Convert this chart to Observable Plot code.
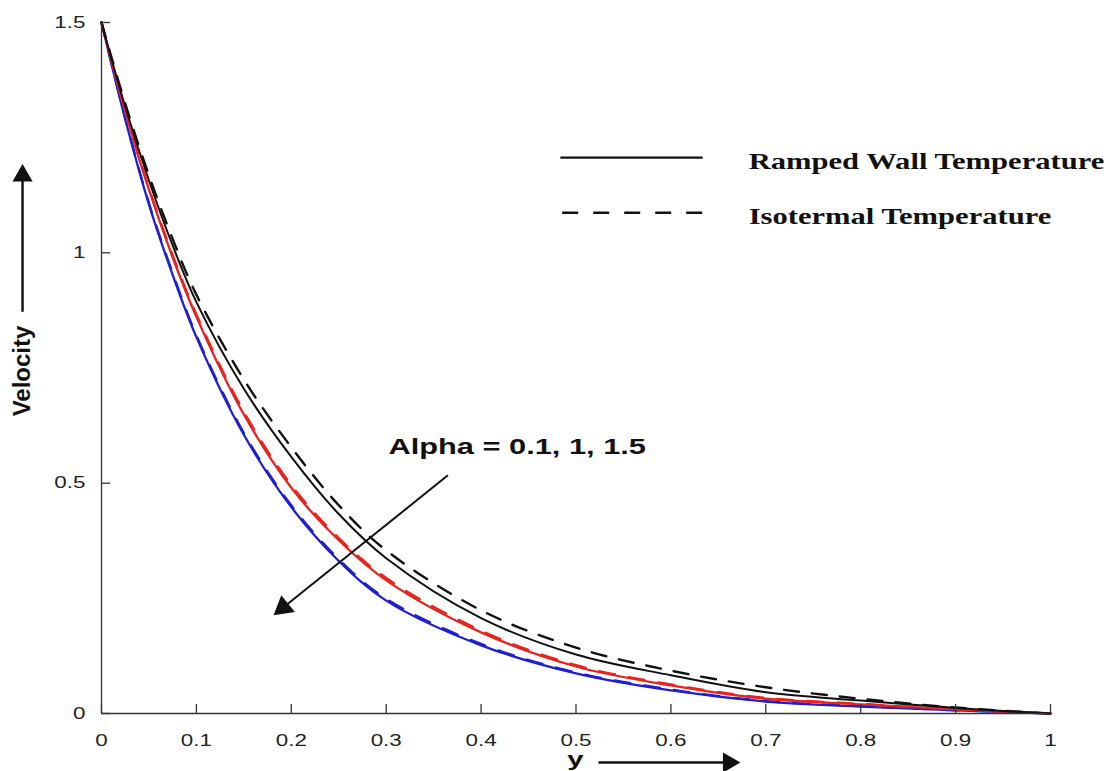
<!DOCTYPE html>
<html>
<head>
<meta charset="utf-8">
<script src="https://cdn.jsdelivr.net/npm/d3@7"></script>
<script src="https://cdn.jsdelivr.net/npm/@observablehq/plot@0.6"></script>
<style>
  html, body { margin: 0; padding: 0; background: #fff; }
  #chart { width: 1115px; height: 771px; overflow: hidden; }
</style>
</head>
<body>
<div id="chart"></div>
<script>
// ---------- data ----------
const yPos = [0, 0.025, 0.05, 0.075, 0.1, 0.15, 0.2, 0.25, 0.3, 0.4, 0.5, 0.6, 0.7, 0.8, 0.9, 1];

// Alpha = 0.1
const rampAlpha01 = [1.5, 1.317, 1.157, 1.016, 0.893, 0.705, 0.557, 0.433, 0.337, 0.207, 0.128, 0.083, 0.046, 0.028, 0.012, 0];
const isoAlpha01  = [1.5, 1.324, 1.168, 1.030, 0.909, 0.725, 0.578, 0.452, 0.354, 0.224, 0.143, 0.093, 0.057, 0.032, 0.013, 0];
// Alpha = 1
const rampAlpha1  = [1.5, 1.306, 1.137, 0.990, 0.861, 0.649, 0.490, 0.376, 0.289, 0.176, 0.102, 0.061, 0.032, 0.020, 0.009, 0];
const isoAlpha1   = [1.5, 1.308, 1.141, 0.995, 0.866, 0.655, 0.496, 0.381, 0.294, 0.180, 0.105, 0.063, 0.034, 0.021, 0.009, 0];
// Alpha = 1.5
const rampAlpha15 = [1.5, 1.290, 1.105, 0.952, 0.817, 0.605, 0.448, 0.331, 0.245, 0.148, 0.087, 0.050, 0.026, 0.015, 0.007, 0];
const isoAlpha15  = [1.5, 1.292, 1.108, 0.956, 0.821, 0.609, 0.452, 0.335, 0.249, 0.151, 0.089, 0.052, 0.027, 0.016, 0.007, 0];

const xTicks = [0, 0.1, 0.2, 0.3, 0.4, 0.5, 0.6, 0.7, 0.8, 0.9, 1];
const xTickLabels = ["0", "0.1", "0.2", "0.3", "0.4", "0.5", "0.6", "0.7", "0.8", "0.9", "1"];
const yTicks = [0, 0.5, 1, 1.5];
const yTickLabels = ["0", "0.5", "1", "1.5"];

const legendLabels = ["Ramped Wall Temperature", "Isotermal Temperature"];
const annotationLabel = "Alpha = 0.1, 1, 1.5";
const yAxisLabel = "Velocity";
const xAxisLabel = "y";

// ---------- build table ----------
const series = [
  {key: "rampAlpha15", values: rampAlpha15, stroke: "#1e1ed2", dash: null, width: 2.3},
  {key: "isoAlpha15",  values: isoAlpha15,  stroke: "#1e1ed2", dash: "16,14", width: 2.3},
  {key: "rampAlpha1",  values: rampAlpha1,  stroke: "#e8231d", dash: null, width: 2.3},
  {key: "isoAlpha1",   values: isoAlpha1,   stroke: "#e8231d", dash: "16,14", width: 2.3},
  {key: "rampAlpha01", values: rampAlpha01, stroke: "#111111", dash: null, width: 2.0},
  {key: "isoAlpha01",  values: isoAlpha01,  stroke: "#111111", dash: "15,13", width: 2.4}
];

const curveMarks = series.map(s =>
  Plot.line(yPos.map((x, i) => ({x, v: s.values[i]})), {
    x: "x", y: "v", stroke: s.stroke, strokeWidth: s.width,
    strokeDasharray: s.dash, curve: "catmull-rom"
  })
);

const sans = "'Liberation Sans', Arial, Helvetica, sans-serif";
const serif = "'Liberation Serif', 'Times New Roman', serif";

const chart = Plot.plot({
  width: 1115,
  height: 771,
  marginLeft: 101,
  marginRight: 65,
  marginTop: 22,
  marginBottom: 58,
  style: {fontFamily: sans, fontSize: "16px", color: "#222", background: "#fff", overflow: "visible"},
  x: {domain: [0, 1], axis: null},
  y: {domain: [0, 1.5], axis: null},
  marks: [
    ...curveMarks,
    // inward ticks (shifted back inside the frame)
    Plot.axisX({ticks: xTicks, tickFormat: () => "", tickSize: 9, dy: -9,
                stroke: "#333", strokeWidth: 1.3, label: null}),
    Plot.axisY({ticks: yTicks, tickFormat: () => "", tickSize: 9, dx: 9,
                stroke: "#333", strokeWidth: 1.3, label: null}),
    // tick labels
    Plot.axisX({ticks: xTicks, tickFormat: (d, i) => xTickLabels[i], tickSize: 0, tickPadding: 21,
                label: null, fontSize: 16, fill: "#222"}),
    Plot.axisY({ticks: yTicks, tickFormat: (d, i) => yTickLabels[i], tickSize: 0, tickPadding: 16,
                label: null, fontSize: 16, fill: "#222"}),
    Plot.ruleX([0], {stroke: "#333", strokeWidth: 1.3}),
    Plot.ruleY([0], {stroke: "#333", strokeWidth: 1.3}),

    // legend (inside plot area)
    Plot.ruleY([1.2065], {x1: 0.484, x2: 0.634, stroke: "#111", strokeWidth: 2.2}),
    Plot.ruleY([1.087], {x1: 0.486, x2: 0.640, stroke: "#111", strokeWidth: 2.4, strokeDasharray: "16,15"}),
    Plot.text([legendLabels[0]], {x: 0.682, y: 1.199, text: d => d, textAnchor: "start",
      fontFamily: serif, fontWeight: "bold", fontSize: 23, fill: "#111"}),
    Plot.text([legendLabels[1]], {x: 0.682, y: 1.079, text: d => d, textAnchor: "start",
      fontFamily: serif, fontWeight: "bold", fontSize: 23, fill: "#111"}),

    // Alpha annotation with arrow
    Plot.text([annotationLabel], {x: 0.3024, y: 0.578, text: d => d, textAnchor: "start",
      fontFamily: sans, fontWeight: "bold", fontSize: 22, fill: "#111"}),
    Plot.link([{x1: 0.365, y1: 0.517, x2: 0.1915, y2: 0.2301}],
      {x1: "x1", y1: "y1", x2: "x2", y2: "y2", stroke: "#111", strokeWidth: 2}),
    Plot.dot([{x: 0.1915, y: 0.2301}], {x: "x", y: "y", symbol: "triangle", r: 8,
      fill: "#111", stroke: null, rotate: 231}),

    // y-axis label with arrow
    Plot.text([yAxisLabel], {x: -0.0832, y: 0.7435, text: d => d, rotate: -90,
      fontFamily: sans, fontWeight: "bold", fontSize: 24, fill: "#111"}),
    Plot.link([{x1: -0.0832, y1: 0.872, x2: -0.0832, y2: 1.1676}],
      {x1: "x1", y1: "y1", x2: "x2", y2: "y2", stroke: "#111", strokeWidth: 2.4}),
    Plot.dot([{x: -0.0832, y: 1.1676}], {x: "x", y: "y", symbol: "triangle", r: 7.5,
      fill: "#111", stroke: null, rotate: 0}),

    // x-axis label with arrow
    Plot.text([xAxisLabel], {x: 0.4995, y: -0.100, text: d => d,
      fontFamily: sans, fontWeight: "bold", fontSize: 21, fill: "#111"}),
    Plot.link([{x1: 0.5237, y1: -0.1065, x2: 0.661, y2: -0.1065}],
      {x1: "x1", y1: "y1", x2: "x2", y2: "y2", stroke: "#111", strokeWidth: 2.4}),
    Plot.dot([{x: 0.661, y: -0.1065}], {x: "x", y: "y", symbol: "triangle", r: 7.5,
      fill: "#111", stroke: null, rotate: 90})
  ]
});

// The reference figure is stretched horizontally; widen the (unrotated) text to match.
const stretch = {serifLegend: 1.33, other: 1.4};
chart.querySelectorAll("text").forEach(t => {
  const tr = t.getAttribute("transform") || "";
  if (tr.includes("rotate")) return;
  const fam = (t.getAttribute("font-family") || (t.parentNode && t.parentNode.getAttribute && t.parentNode.getAttribute("font-family")) || "");
  const sx = fam.includes("Serif") ? stretch.serifLegend : stretch.other;
  if (/^translate\(/.test(tr)) {
    t.setAttribute("transform", tr.replace(/^translate\([^)]*\)/, m => m + ` scale(${sx},1)`));
  } else {
    const x = +(t.getAttribute("x") || 0), y = +(t.getAttribute("y") || 0);
    t.setAttribute("transform", `translate(${x},${y}) scale(${sx},1) translate(${-x},${-y})`);
  }
});

document.getElementById("chart").appendChild(chart);
</script>
</body>
</html>
